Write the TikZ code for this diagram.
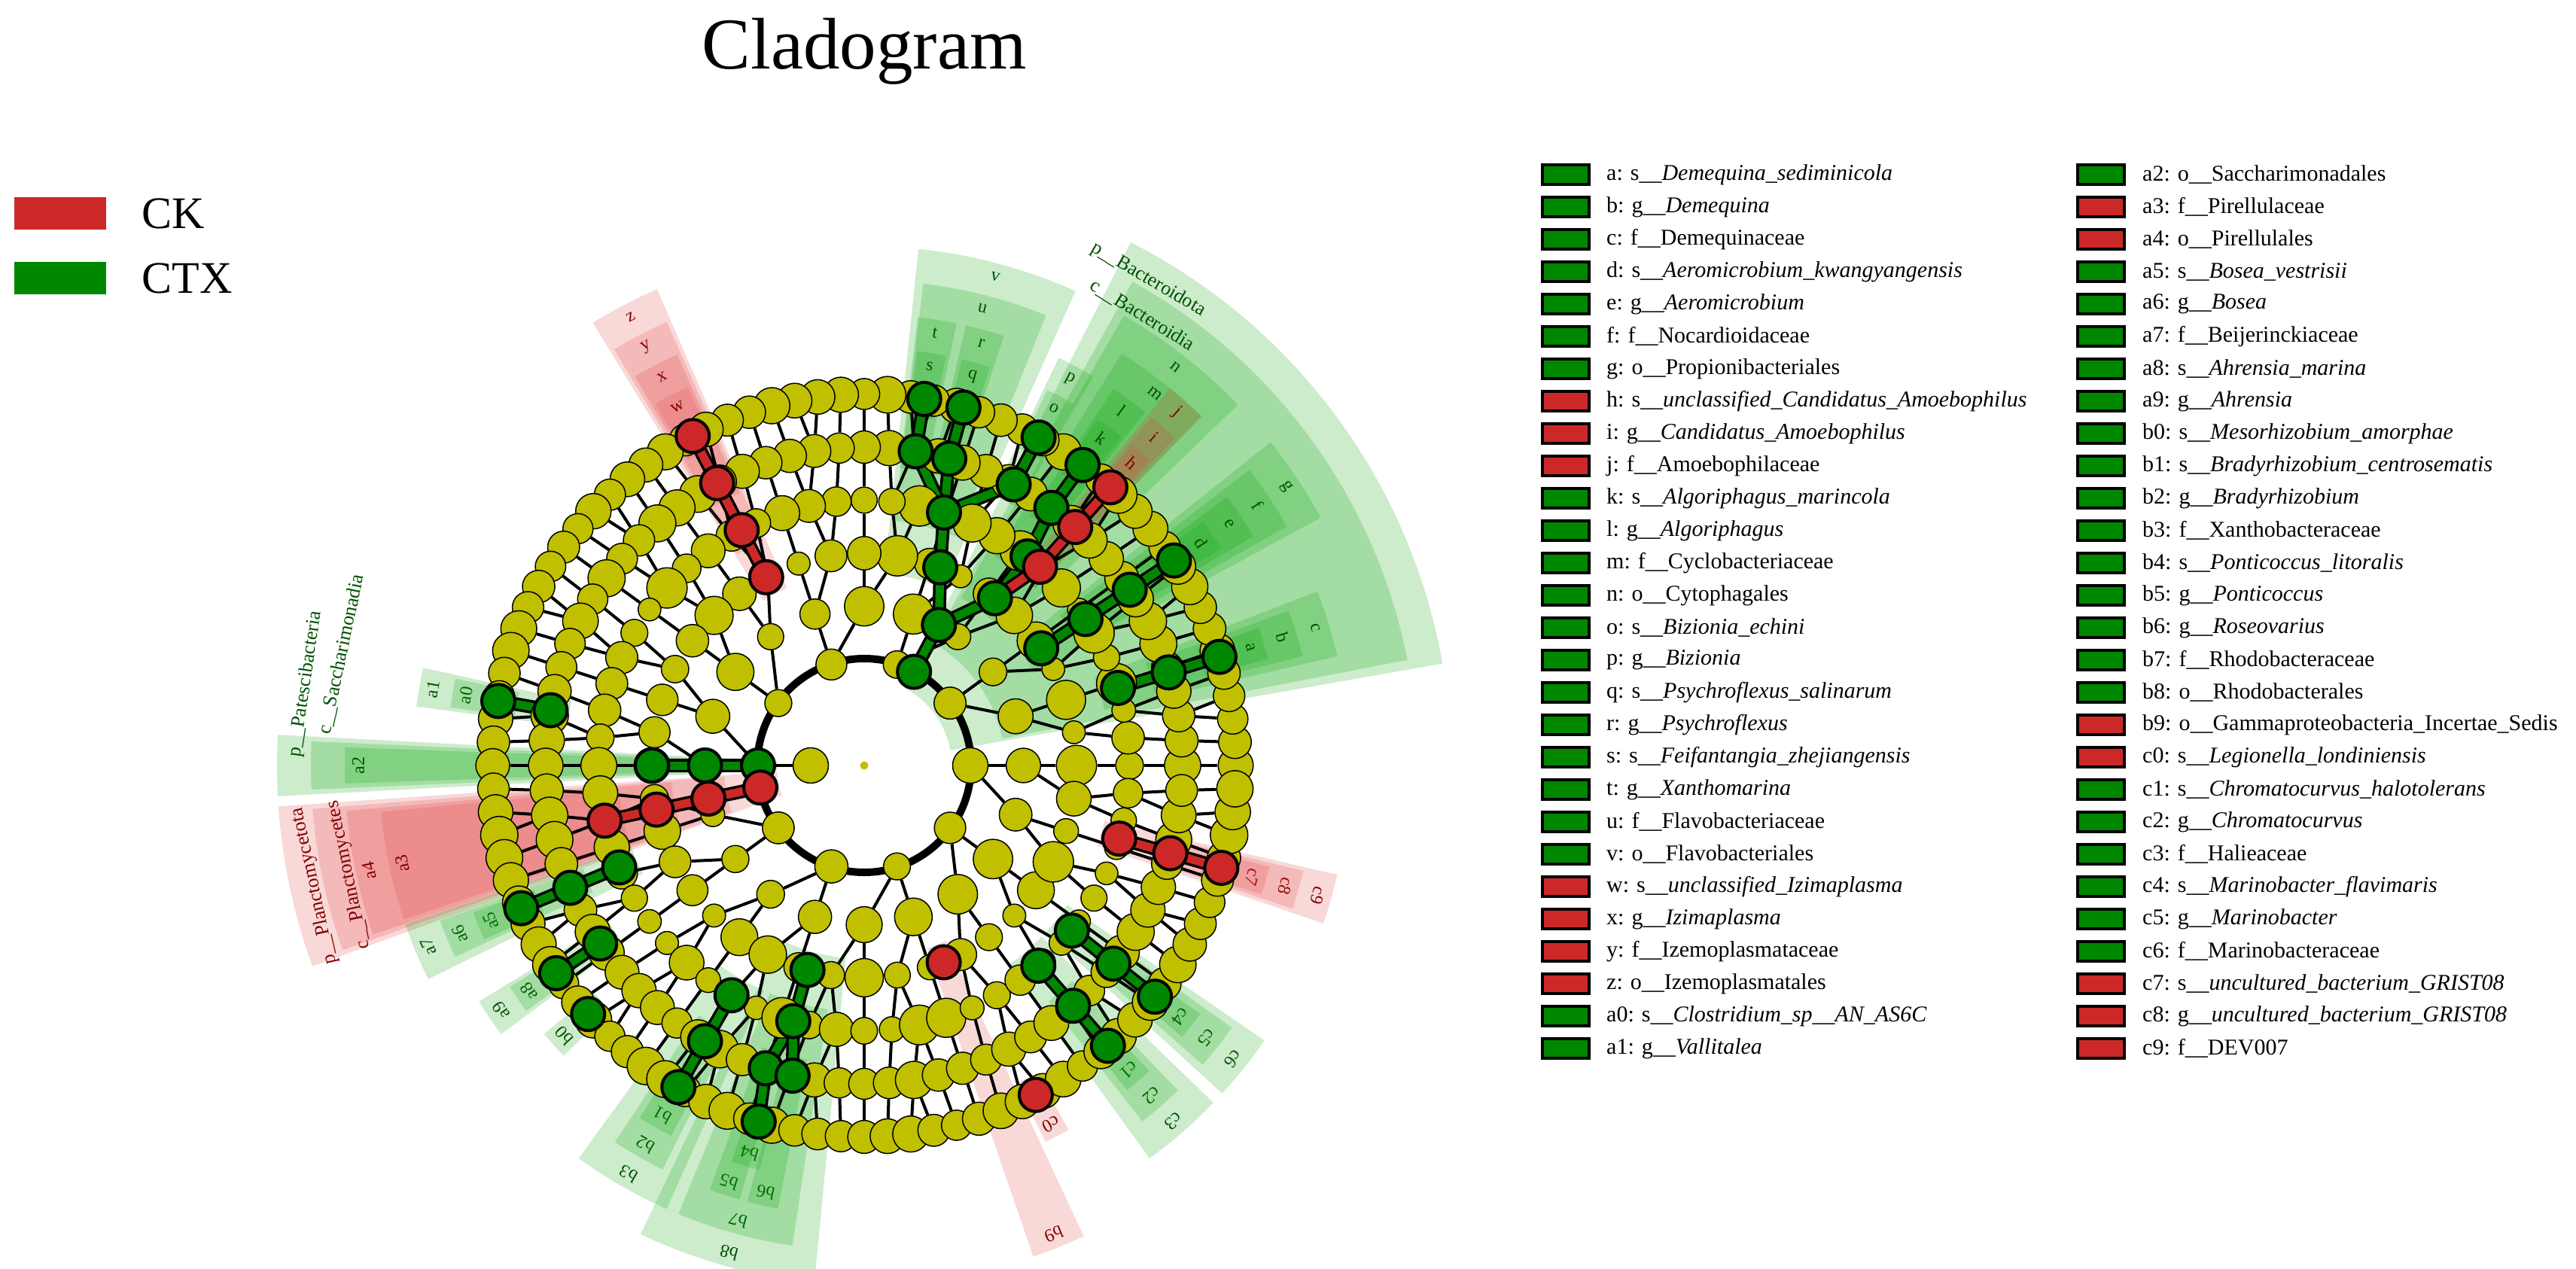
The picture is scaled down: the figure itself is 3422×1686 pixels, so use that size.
\documentclass[tikz,border=0pt]{standalone}
\usepackage{fontspec}
\setmainfont{Liberation Serif}
\pgfdeclarelayer{wedges}\pgfdeclarelayer{edges}
\pgfsetlayers{wedges,edges,main}
\definecolor{nodeY}{RGB}{192,192,0}
\definecolor{nodeG}{RGB}{0,135,0}
\definecolor{nodeR}{RGB}{205,40,40}
\definecolor{wedgeG}{RGB}{0,160,0}
\definecolor{wedgeR}{RGB}{225,60,60}
\definecolor{textG}{RGB}{0,80,0}
\definecolor{textR}{RGB}{130,0,0}
\tikzset{
 ynode/.style={circle,draw=black,line width=1.5pt,fill=nodeY,inner sep=0pt},
 bnode/.style={circle,draw=black,line width=4pt,inner sep=0pt,minimum size=44pt},
 edge/.style={line width=4pt,black},
 lab/.style={font=\fontsize{24}{26}\selectfont,inner sep=0pt},
 biglab/.style={font=\fontsize{26}{28}\selectfont,inner sep=0pt},
 legtxt/.style={font=\fontsize{30}{34}\selectfont,anchor=west,inner sep=0pt},
 legbox/.style={draw=black,line width=4pt},
}
\begin{document}
\begin{tikzpicture}[x=1pt,y=1pt]
\useasboundingbox (0,0) rectangle (3422,-1686);
\node[font=\fontsize{97}{100}\selectfont,anchor=base] (title) at (1148,-92) {Cladogram};
% group legend
\fill[nodeR] (19,-262) rectangle (141,-305); \node[font=\fontsize{60}{64}\selectfont,anchor=west] (ck) at (185,-284) {CK};
\fill[nodeG] (19,-348) rectangle (141,-391); \node[font=\fontsize{60}{64}\selectfont,anchor=west] (ctx) at (185,-370) {CTX};
% cladogram
\begin{scope}[shift={(1148,-1017)}]
\pgfmathsetseed{11}
\foreach \L/\s/\n in {7/3.6/99,6/4.5/79,5/6/59,4/9/39,3/18/19,2/36/9}{
 \foreach \i in {0,...,\n}{
  \pgfmathsetmacro\a{\i*\s}
  \pgfmathsetmacro\r{70.5*\L}
  \pgfmathsetmacro\d{\L>5 ? 40+10*rnd : 30+24*rnd}
  \node[ynode,minimum size=\d pt] (n-\L-\i) at (\a:\r) {};
 }}
\node[ynode,minimum size=47pt] (king) at (180:71) {};
\node[circle,fill=nodeY,inner sep=0pt,minimum size=11pt] (root) at (0,0) {};
\begin{pgfonlayer}{edges}
\draw[line width=10pt] (0,0) circle[radius=142pt];
\foreach \L/\s/\ps/\pn/\n in {7/3.6/4.5/80/99,6/4.5/6/60/79,5/6/9/40/59,4/9/18/20/39,3/18/36/10/19}{
 \pgfmathtruncatemacro\P{\L-1}
 \foreach \i in {0,...,\n}{
  \pgfmathtruncatemacro\j{mod(round(\i*\s/\ps),\pn)}
  \draw[edge] (n-\L-\i) -- (n-\P-\j);
 }}
\draw[edge] (king) -- (n-2-5);
\end{pgfonlayer}
% biomarker nodes
\foreach \nm/\L/\a/\c in {Bp/2/62/G,Bc/3/62/G,v/4/69/G,u/5/72.5/G,r/6/74.5/G,q/7/74.5/G,t/6/80.7/G,s/7/80.7/G,p/6/62/G,o/7/62/G,n/4/52/G,m/5/52/G,l/6/54/G,k/7/54/G,j/5/48.5/R,i/6/48.5/R,h/7/48.5/R,g/4/33.5/G,f/5/33.5/G,e/6/33.5/G,d/7/33.5/G,c/5/17/G,b/6/17/G,a/7/17/G,z/4/117.5/R,y/5/117.5/R,x/6/117.5/R,w/7/117.5/R,Pp/2/180/G,Pc/3/180/G,a2/4/180/G,Qp/2/192/R,Qc/3/192/R,a4/4/192/R,a3/5/192/R,a0/7/170/G,a1/6/170/G,a5/7/202.6/G,a6/6/202.6/G,a7/5/202.6/G,a8/7/214/G,a9/6/214/G,b0/7/222/G,b1/7/240/G,b2/6/240/G,b3/5/240/G,b4/7/253.5/G,b5/6/252/G,b6/6/257/G,b7/5/254.5/G,b8/4/254.5/G,b9/4/292/R,c0/7/297.5/R,c1/7/311/G,c2/6/311/G,c3/5/311/G,c4/7/321.5/G,c5/6/321.5/G,c6/5/321.5/G,c7/7/344/R,c8/6/344/R,c9/5/344/R}{
 \pgfmathsetmacro\r{70.5*\L}
 \node[bnode,fill=node\c] (bm-\nm) at (\a:\r) {};
}
\begin{pgfonlayer}{edges}
\foreach \ch/\pa/\c in {Bc/Bp/G,v/Bc/G,u/v/G,r/u/G,q/r/G,t/u/G,s/t/G,p/u/G,o/p/G,n/Bc/G,m/n/G,l/m/G,k/l/G,j/n/R,i/j/R,h/i/R,f/g/G,e/f/G,d/e/G,b/c/G,a/b/G,y/z/R,x/y/R,w/x/R,Pc/Pp/G,a2/Pc/G,Qc/Qp/R,a4/Qc/R,a3/a4/R,a0/a1/G,a5/a6/G,a6/a7/G,a8/a9/G,b1/b2/G,b2/b3/G,b4/b5/G,b5/b7/G,b6/b7/G,b7/b8/G,c1/c2/G,c2/c3/G,c4/c5/G,c5/c6/G,c7/c8/R,c8/c9/R}{
 \draw[line width=18pt,black] (bm-\ch.center) -- (bm-\pa.center);
 \draw[line width=11pt,node\c] (bm-\ch.center) -- (bm-\pa.center);
}
\end{pgfonlayer}
% wedges
\begin{pgfonlayer}{wedges}
\foreach \c/\L/\m/\h in {G/2/36.5/26.5,G/3/36/25,G/2/180/3,G/3/180/2.5,R/2/192/8,R/3/192/7.5}{
 \pgfmathsetmacro\wa{\m-\h}\pgfmathsetmacro\wb{\m+\h}
 \pgfmathsetmacro\ri{70.5*\L-25}\pgfmathsetmacro\ro{555+45*(7-\L)}
 \fill[wedge\c,fill opacity=0.2] (\wa:\ri) arc[start angle=\wa,end angle=\wb,radius=\ri pt] -- (\wb:\ro) arc[start angle=\wb,end angle=\wa,radius=\ro pt] -- cycle;
}
\foreach \t/\c/\L/\m/\h in {v/G/4/75/9,u/G/5/75.5/7.5,n/G/4/52/8,m/G/5/52/6,l/G/6/54/2.5,k/G/7/54/2,j/R/5/48.5/2.5,i/R/6/48.5/2,h/R/7/48.5/1.6,p/G/6/62/2.5,o/G/7/62/2,r/G/6/74.5/2.5,q/G/7/74.5/2,t/G/6/80.7/2.5,s/G/7/80.7/2,g/G/4/33.5/5,f/G/5/33.5/4,e/G/6/33.5/3,d/G/7/33.5/2.2,c/G/5/17/4,b/G/6/17/3,a/G/7/17/2.2,z/R/4/117.5/4,y/R/5/117.5/3.5,x/R/6/117.5/3,w/R/7/117.5/2.5,a2/G/4/180/2,a4/R/4/192/7,a3/R/5/192/6.5,a0/G/7/170/2,a1/G/6/170/2.5,a5/G/7/202.6/2,a6/G/6/202.6/2.5,a7/G/5/202.6/3.5,a8/G/7/214/2,a9/G/6/214/2.5,b0/G/7/222/2,b1/G/7/240/2.5,b2/G/6/240/3.5,b3/G/5/240/6,b4/G/7/253.5/2,b5/G/6/252/2,b6/G/6/257/2,b7/G/5/254.5/7,b8/G/4/254.5/10,b9/R/4/292/3,c0/R/7/297.5/1.8,c1/G/7/311/2,c2/G/6/311/3,c3/G/5/311/5,c4/G/7/321.5/2,c5/G/6/321.5/3,c6/G/5/321.5/4,c7/R/7/344/2,c8/R/6/344/2.5,c9/R/5/344/3}{
 \pgfmathsetmacro\wa{\m-\h}\pgfmathsetmacro\wb{\m+\h}
 \pgfmathsetmacro\ri{70.5*\L-25}\pgfmathsetmacro\ro{555+45*(7-\L)}
 \fill[wedge\c,fill opacity=0.2] (\wa:\ri) arc[start angle=\wa,end angle=\wb,radius=\ri pt] -- (\wb:\ro) arc[start angle=\wb,end angle=\wa,radius=\ro pt] -- cycle;
 \pgfmathsetmacro\rl{\ro-18}\pgfmathsetmacro\rot{\m-90}
 \node[lab,text=text\c,rotate=\rot] (lab-\t) at (\m:\rl) {\t};
}
\end{pgfonlayer}
\node[biglab,text=textG,rotate=-30.3] (lpB) at (59.7:748) {p\_\_Bacteroidota};
\node[biglab,text=textG,rotate=-31.7] (lcB) at (58.3:703) {c\_\_Bacteroidia};
\node[biglab,text=textG,rotate=81.7] (lpP) at (171.7:750) {p\_\_Patescibacteria};
\node[biglab,text=textG,rotate=78] (lcP) at (168:710) {c\_\_Saccharimonadia};
\node[biglab,text=textR,rotate=102.4] (lpQ) at (192.4:748) {p\_\_Planctomycetota};
\node[biglab,text=textR,rotate=102] (lcQ) at (192:700) {c\_\_Planctomycetes};
\end{scope}
% legend
\foreach \tx/\c [count=\k from 0] in {{a: s\_\_\textit{Demequina\_sediminicola}}/G,{b: g\_\_\textit{Demequina}}/G,{c: f\_\_Demequinaceae}/G,{d: s\_\_\textit{Aeromicrobium\_kwangyangensis}}/G,{e: g\_\_\textit{Aeromicrobium}}/G,{f: f\_\_Nocardioidaceae}/G,{g: o\_\_Propionibacteriales}/G,{h: s\_\_\textit{unclassified\_Candidatus\_Amoebophilus}}/R,{i: g\_\_\textit{Candidatus\_Amoebophilus}}/R,{j: f\_\_Amoebophilaceae}/R,{k: s\_\_\textit{Algoriphagus\_marincola}}/G,{l: g\_\_\textit{Algoriphagus}}/G,{m: f\_\_Cyclobacteriaceae}/G,{n: o\_\_Cytophagales}/G,{o: s\_\_\textit{Bizionia\_echini}}/G,{p: g\_\_\textit{Bizionia}}/G,{q: s\_\_\textit{Psychroflexus\_salinarum}}/G,{r: g\_\_\textit{Psychroflexus}}/G,{s: s\_\_\textit{Feifantangia\_zhejiangensis}}/G,{t: g\_\_\textit{Xanthomarina}}/G,{u: f\_\_Flavobacteriaceae}/G,{v: o\_\_Flavobacteriales}/G,{w: s\_\_\textit{unclassified\_Izimaplasma}}/R,{x: g\_\_\textit{Izimaplasma}}/R,{y: f\_\_Izemoplasmataceae}/R,{z: o\_\_Izemoplasmatales}/R,{a0: s\_\_\textit{Clostridium\_sp\_\_AN\_AS6C}}/G,{a1: g\_\_\textit{Vallitalea}}/G}{
 \pgfmathsetmacro\yy{-232-43*\k}
 \draw[legbox,fill=node\c] (2049,\yy+13) rectangle (2111,\yy-13);
 \node[legtxt] (leg1-\k) at (2134,\yy) {\tx};
}
\foreach \tx/\c [count=\k from 0] in {{a2: o\_\_Saccharimonadales}/G,{a3: f\_\_Pirellulaceae}/R,{a4: o\_\_Pirellulales}/R,{a5: s\_\_\textit{Bosea\_vestrisii}}/G,{a6: g\_\_\textit{Bosea}}/G,{a7: f\_\_Beijerinckiaceae}/G,{a8: s\_\_\textit{Ahrensia\_marina}}/G,{a9: g\_\_\textit{Ahrensia}}/G,{b0: s\_\_\textit{Mesorhizobium\_amorphae}}/G,{b1: s\_\_\textit{Bradyrhizobium\_centrosematis}}/G,{b2: g\_\_\textit{Bradyrhizobium}}/G,{b3: f\_\_Xanthobacteraceae}/G,{b4: s\_\_\textit{Ponticoccus\_litoralis}}/G,{b5: g\_\_\textit{Ponticoccus}}/G,{b6: g\_\_\textit{Roseovarius}}/G,{b7: f\_\_Rhodobacteraceae}/G,{b8: o\_\_Rhodobacterales}/G,{b9: o\_\_Gammaproteobacteria\_Incertae\_Sedis}/R,{c0: s\_\_\textit{Legionella\_londiniensis}}/R,{c1: s\_\_\textit{Chromatocurvus\_halotolerans}}/G,{c2: g\_\_\textit{Chromatocurvus}}/G,{c3: f\_\_Halieaceae}/G,{c4: s\_\_\textit{Marinobacter\_flavimaris}}/G,{c5: g\_\_\textit{Marinobacter}}/G,{c6: f\_\_Marinobacteraceae}/G,{c7: s\_\_\textit{uncultured\_bacterium\_GRIST08}}/R,{c8: g\_\_\textit{uncultured\_bacterium\_GRIST08}}/R,{c9: f\_\_DEV007}/R}{
 \pgfmathsetmacro\yy{-232-43*\k}
 \draw[legbox,fill=node\c] (2760,\yy+13) rectangle (2822,\yy-13);
 \node[legtxt] (leg2-\k) at (2846,\yy) {\tx};
}
\end{tikzpicture}
\end{document}
